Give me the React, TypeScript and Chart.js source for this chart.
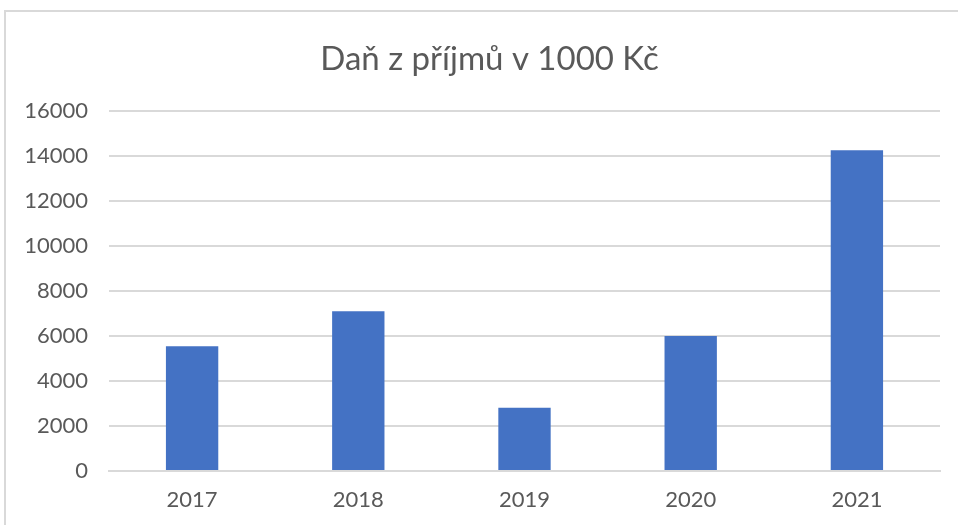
import React, { useEffect, useRef } from "react";
import { Chart, registerables } from "chart.js";

Chart.register(...registerables);

const TITLE = "Daň z příjmů v 1000 Kč";
const YEARS = ["2017", "2018", "2019", "2020", "2021"];
const TAX = [5540, 7090, 2810, 5990, 14240];
const Y_MAX = 16000;
const Y_STEP = 2000;

const FONT = "Lato, 'Open Sans', sans-serif";
const TEXT = "#595959";
const GRID = "#d9d9d9";

const frame = {
  id: "frame",
  beforeDraw(chart: any) {
    const ctx = chart.ctx;
    ctx.save();
    ctx.fillStyle = "#ffffff";
    ctx.fillRect(0, 0, chart.width, chart.height);
    ctx.strokeStyle = GRID;
    ctx.lineWidth = 2;
    ctx.beginPath();
    ctx.moveTo(5, chart.height + 5);
    ctx.lineTo(5, 11);
    ctx.lineTo(chart.width + 5, 11);
    ctx.stroke();
    ctx.restore();
  },
};

export default function App() {
  const ref = useRef<HTMLCanvasElement | null>(null);
  useEffect(() => {
    if (!ref.current) return;
    const chart = new Chart(ref.current, {
      type: "bar",
      data: {
        labels: YEARS,
        datasets: [
          {
            label: TITLE,
            data: TAX,
            backgroundColor: "#4472C4",
            categoryPercentage: 1,
            barPercentage: 0.315,
          },
        ],
      },
      options: {
        animation: false,
        responsive: false,
        layout: { padding: 0 },
        plugins: {
          legend: { display: false },
          tooltip: { enabled: false },
          title: {
            display: true,
            text: TITLE,
            color: TEXT,
            font: { family: FONT, size: 33, weight: "normal" },
            padding: { top: 40, bottom: 31 },
          },
        },
        scales: {
          x: {
            grid: { display: false, drawTicks: false },
            border: { display: true, color: GRID, width: 2 },
            ticks: {
              color: TEXT,
              font: { family: FONT, size: 22 },
              padding: 16,
            },
            afterFit: (s: any) => {
              s.height = 54;
            },
          },
          y: {
            min: 0,
            max: Y_MAX,
            grid: { color: GRID, lineWidth: 2, drawTicks: false },
            border: { display: false },
            ticks: {
              stepSize: Y_STEP,
              color: TEXT,
              font: { family: FONT, size: 22 },
              padding: 21,
              callback: (v: any) => String(v),
            },
            afterFit: (s: any) => {
              s.width = 109;
            },
          },
          spacer: {
            type: "linear",
            position: "right",
            display: true,
            min: 0,
            max: Y_MAX,
            grid: { display: false, drawTicks: false },
            border: { display: false },
            ticks: { display: false },
            afterFit: (s: any) => {
              s.width = 39;
            },
          },
        },
      },
      plugins: [frame],
    });
    return () => chart.destroy();
  }, []);
  return (
    <div style={{ position: "fixed", left: 0, top: 0, width: 958, height: 525, overflow: "hidden", background: "#fff" }}>
      <canvas ref={ref} width={979} height={525} style={{ display: "block" }} />
    </div>
  );
}
